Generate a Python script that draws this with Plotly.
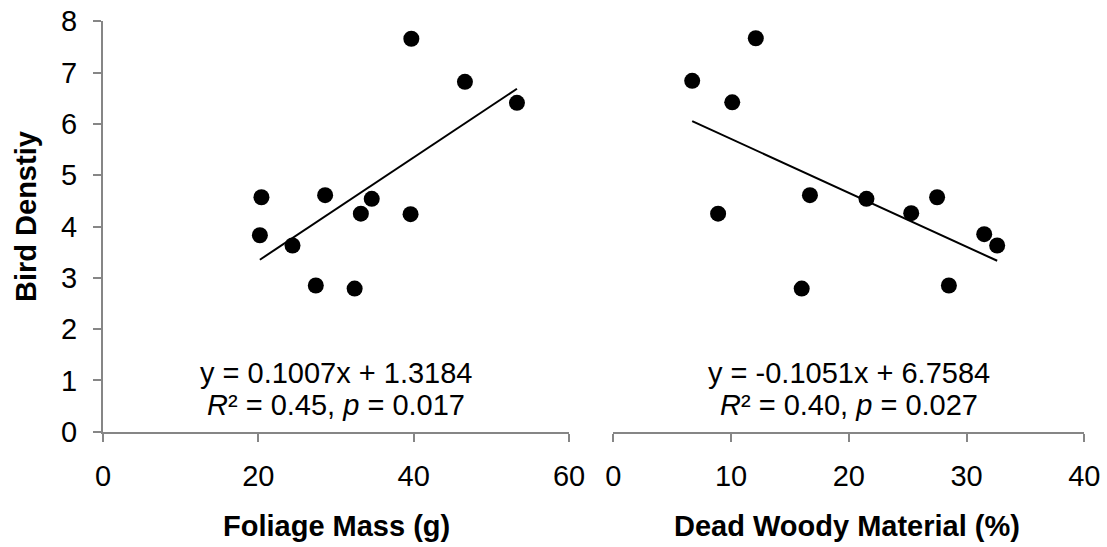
import numpy as np
import plotly.graph_objects as go

# ---- data ----
foliage_mass = [20.4, 20.2, 24.4, 27.4, 28.6, 32.4, 33.2, 34.6, 39.6, 39.7, 46.6, 53.3]
bird_density_left = [4.57, 3.83, 3.63, 2.85, 4.61, 2.79, 4.25, 4.54, 4.24, 7.66, 6.82, 6.41]

dead_woody = [6.7, 12.1, 10.1, 8.9, 16.7, 16.0, 21.5, 25.3, 27.5, 28.5, 31.5, 32.6]
bird_density_right = [6.84, 7.67, 6.42, 4.25, 4.61, 2.79, 4.54, 4.26, 4.57, 2.85, 3.85, 3.63]

fit_left = (0.1007, 1.3184)
fit_right = (-0.1051, 6.7584)

eq_left = ["y = 0.1007x + 1.3184", "<i>R</i>² = 0.45, <i>p</i> = 0.017"]
eq_right = ["y = -0.1051x + 6.7584", "<i>R</i>² = 0.40, <i>p</i> = 0.027"]

x_title_left = "Foliage Mass (g)"
x_title_right = "Dead Woody Material (%)"
y_title = "Bird Denstiy"

W, H = 1107, 547
FONT = "Liberation Sans, Arial, sans-serif"
FS = 29
AXC = "#868686"


def px_x(p):
    return p / W


def px_y(p):
    return 1 - p / H


fig = go.Figure()

fig.add_trace(go.Scatter(x=foliage_mass, y=bird_density_left, mode="markers",
                         marker=dict(size=16, color="black"), xaxis="x", yaxis="y",
                         showlegend=False, cliponaxis=False))
xl = np.array([min(foliage_mass), max(foliage_mass)])
fig.add_trace(go.Scatter(x=xl, y=fit_left[0] * xl + fit_left[1], mode="lines",
                         line=dict(color="black", width=2), xaxis="x", yaxis="y",
                         showlegend=False))

fig.add_trace(go.Scatter(x=dead_woody, y=bird_density_right, mode="markers",
                         marker=dict(size=16, color="black"), xaxis="x2", yaxis="y2",
                         showlegend=False, cliponaxis=False))
xr = np.array([min(dead_woody), max(dead_woody)])
fig.add_trace(go.Scatter(x=xr, y=fit_right[0] * xr + fit_right[1], mode="lines",
                         line=dict(color="black", width=2), xaxis="x2", yaxis="y2",
                         showlegend=False))

axis_common = dict(showline=True, linecolor=AXC, linewidth=2, ticks="outside",
                   ticklen=8, tickwidth=2, tickcolor=AXC, showgrid=False,
                   zeroline=False, automargin=False,
                   tickfont=dict(family=FONT, size=FS, color="black"))

ydom = [px_y(431.7), px_y(21.3)]

fig.update_layout(
    width=W, height=H,
    margin=dict(l=0, r=0, t=0, b=0),
    paper_bgcolor="white", plot_bgcolor="white",
    font=dict(family=FONT, size=FS, color="black"),
    xaxis=dict(domain=[px_x(103), px_x(569)], range=[0, 60], dtick=20,
               anchor="y", ticklabelstandoff=9, **axis_common),
    yaxis=dict(domain=ydom, range=[0, 8], dtick=1, anchor="x",
               ticklabelstandoff=10, **axis_common),
    xaxis2=dict(domain=[px_x(613.3), px_x(1084.3)], range=[0, 40], dtick=10,
                anchor="y2", ticklabelstandoff=9, **axis_common),
    yaxis2=dict(domain=ydom, range=[0, 8], anchor="x2", visible=False,
                automargin=False),
)

ann = []
for xref, lines in (("x domain", eq_left), ("x2 domain", eq_right)):
    for txt, ypx in zip(lines, (373.3, 405.0)):
        ann.append(dict(text=txt, xref=xref, yref="paper", x=0.5, y=px_y(ypx),
                        xanchor="center", yanchor="middle", showarrow=False,
                        font=dict(family=FONT, size=FS, color="black")))

ann.append(dict(text="<b>%s</b>" % x_title_left, xref="paper", yref="paper",
                x=px_x(336), y=px_y(526), xanchor="center", yanchor="middle",
                showarrow=False, font=dict(family=FONT, size=FS, color="black")))
ann.append(dict(text="<b>%s</b>" % x_title_right, xref="paper", yref="paper",
                x=px_x(847), y=px_y(526), xanchor="center", yanchor="middle",
                showarrow=False, font=dict(family=FONT, size=FS, color="black")))
ann.append(dict(text="<b>%s</b>" % y_title, xref="paper", yref="paper",
                x=px_x(26), y=px_y(217), xanchor="center", yanchor="middle",
                textangle=-90, showarrow=False,
                font=dict(family=FONT, size=FS, color="black")))

fig.update_layout(annotations=ann)

fig.write_html("out.html", config={"displayModeBar": False},
               post_script="document.body.style.margin='0';document.body.style.overflow='hidden';")
